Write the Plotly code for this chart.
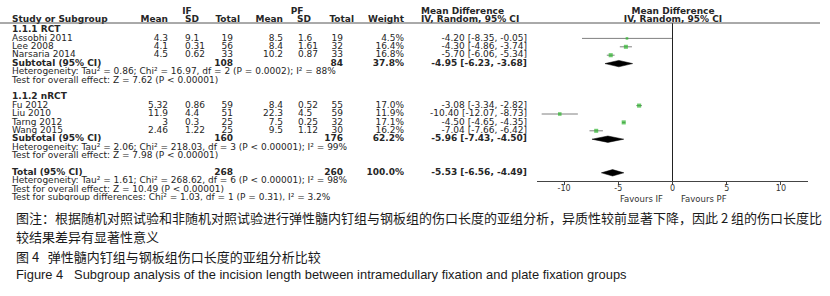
import plotly.graph_objects as go

W, H = 830, 296

# ---------------- data ----------------
sub_names = ["1.1.1 RCT", "1.1.2 nRCT"]
sub_sizes = [3, 4]

studies = ["Assobhi 2011", "Lee 2008", "Narsaria 2014",
           "Fu 2012", "Liu 2010", "Tarng 2012", "Wang 2015"]
if_mean = [4.3, 4.1, 4.5, 5.32, 11.9, 3, 2.46]
if_sd = [9.1, 0.31, 0.62, 0.86, 4.4, 0.3, 1.22]
if_n = [19, 56, 33, 59, 51, 25, 25]
pf_mean = [8.5, 8.4, 10.2, 8.4, 22.3, 7.5, 9.5]
pf_sd = [1.6, 1.61, 0.87, 0.52, 4.5, 0.25, 1.12]
pf_n = [19, 32, 33, 55, 59, 32, 30]
weight = [4.5, 16.4, 16.8, 17.0, 11.9, 17.1, 16.2]
md = [-4.20, -4.30, -5.70, -3.08, -10.40, -4.50, -7.04]
md_lo = [-8.35, -4.86, -6.06, -3.34, -12.07, -4.65, -7.66]
md_hi = [-0.05, -3.74, -5.34, -2.82, -8.73, -4.35, -6.42]

sub_if_n = [108, 160]
sub_pf_n = [84, 176]
sub_weight = [37.8, 62.2]
sub_md = [-4.95, -5.96]
sub_lo = [-6.23, -7.43]
sub_hi = [-3.68, -4.50]
sub_het = ["Heterogeneity: Tau² = 0.86; Chi² = 16.97, df = 2 (P = 0.0002); I² = 88%",
           "Heterogeneity: Tau² = 2.06; Chi² = 218.03, df = 3 (P < 0.00001); I² = 99%"]
sub_test = ["Test for overall effect: Z = 7.62 (P < 0.00001)",
            "Test for overall effect: Z = 7.98 (P < 0.00001)"]

tot_if_n = 268
tot_pf_n = 260
tot_weight = 100.0
tot_md = -5.53
tot_lo = -6.56
tot_hi = -4.49
tot_het = "Heterogeneity: Tau² = 1.61; Chi² = 268.62, df = 6 (P < 0.00001); I² = 98%"
tot_test = "Test for overall effect: Z = 10.49 (P < 0.00001)"
sub_diff = "Test for subgroup differences: Chi² = 1.03, df = 1 (P = 0.31), I² = 3.2%"

axis_ticks = [-10, -5, 0, 5, 10]
fav_left = "Favours IF"
fav_right = "Favours PF"

caption_lines = [
    "图注：根据随机对照试验和非随机对照试验进行弹性髓内钉组与钢板组的伤口长度的亚组分析，异质性较前显著下降，因此 2 组的伤口长度比",
    "较结果差异有显著性意义",
    "图 4\u00a0\u00a0\u00a0弹性髓内钉组与钢板组伤口长度的亚组分析比较",
    "Figure 4\u00a0\u00a0\u00a0Subgroup analysis of the incision length between intramedullary fixation and plate fixation groups",
]

# ---------------- styling / layout constants ----------------
FONT = "DejaVu Sans"
FS = 9
TXT = "#262626"
GREEN = "#2fb52f"
ROW0, ROW_STEP = 30.0, 8.4
TABLE_BOTTOM = 200.5
HEAD_LINE = 23.0
AXIS_Y = 181.0
FX0, FX1 = 537.0, 808.0
XR = [-12.5, 12.5]

# column anchors (pixel x, alignment)
C_STUDY = (12, "L")
C_IFM = (168, "R")
C_IFSD = (185, "L")
C_IFN = (233, "R")
C_PFM = (283, "R")
C_PFSD = (298, "L")
C_PFN = (343, "R")
C_W = (404, "R")
C_CI = (527, "R")


def py(px):
    return 1 - px / H


def row_y(i):
    return ROW0 + ROW_STEP * i


def fmt_ci(m, l, h):
    return f"{m:.2f} [{l:.2f}, {h:.2f}]"


cells = []  # (x, y, text, align, bold)


def cell(col, y, text, bold=False):
    cells.append((col[0], y, text, col[1], bold))


# headers
h1 = 11.5
cells.append((187, h1, "IF", "C", True))
cells.append((297, h1, "PF", "C", True))
cells.append((421, h1, "Mean Difference", "L", True))
cells.append((673, h1, "Mean Difference", "C", True))
hy = 20
cells.append((12, hy, "Study or Subgroup", "L", True))
cells.append((168, hy, "Mean", "R", True))
cells.append((185, hy, "SD", "L", True))
cells.append((240, hy, "Total", "R", True))
cells.append((283, hy, "Mean", "R", True))
cells.append((297, hy, "SD", "L", True))
cells.append((354, hy, "Total", "R", True))
cells.append((404, hy, "Weight", "R", True))
cells.append((421, hy, "IV, Random, 95% CI", "L", True))
cells.append((673, hy, "IV, Random, 95% CI", "C", True))

# body rows
study_rows = []
sub_rows = []
r = 0
s = 0
for g, name in enumerate(sub_names):
    cell(C_STUDY, row_y(r), name, True)
    r += 1
    for _ in range(sub_sizes[g]):
        y = row_y(r)
        study_rows.append(y)
        cell(C_STUDY, y, studies[s])
        cell(C_IFM, y, f"{if_mean[s]:g}")
        cell(C_IFSD, y, f"{if_sd[s]:g}")
        cell(C_IFN, y, f"{if_n[s]}")
        cell(C_PFM, y, f"{pf_mean[s]:g}")
        cell(C_PFSD, y, f"{pf_sd[s]:g}")
        cell(C_PFN, y, f"{pf_n[s]}")
        cell(C_W, y, f"{weight[s]:.1f}%")
        cell(C_CI, y, fmt_ci(md[s], md_lo[s], md_hi[s]))
        s += 1
        r += 1
    y = row_y(r)
    sub_rows.append(y)
    cell(C_STUDY, y, "Subtotal (95% CI)", True)
    cell(C_IFN, y, f"{sub_if_n[g]}", True)
    cell(C_PFN, y, f"{sub_pf_n[g]}", True)
    cell(C_W, y, f"{sub_weight[g]:.1f}%", True)
    cell(C_CI, y, fmt_ci(sub_md[g], sub_lo[g], sub_hi[g]), True)
    r += 1
    cell(C_STUDY, row_y(r), sub_het[g])
    r += 1
    cell(C_STUDY, row_y(r), sub_test[g])
    r += 2

y = row_y(r)
tot_row = y
cell(C_STUDY, y, "Total (95% CI)", True)
cell(C_IFN, y, f"{tot_if_n}", True)
cell(C_PFN, y, f"{tot_pf_n}", True)
cell(C_W, y, f"{tot_weight:.1f}%", True)
cell(C_CI, y, fmt_ci(tot_md, tot_lo, tot_hi), True)
r += 1
cell(C_STUDY, row_y(r), tot_het)
r += 1
cell(C_STUDY, row_y(r), tot_test)
r += 1
cell(C_STUDY, row_y(r), sub_diff)

fig = go.Figure()

POS = {"L": "middle right", "R": "middle left", "C": "middle center"}
for align in ("L", "R", "C"):
    for bold in (False, True):
        sel = [c for c in cells if c[3] == align and c[4] == bold]
        if not sel:
            continue
        fig.add_trace(go.Scatter(
            x=[c[0] for c in sel], y=[c[1] for c in sel], text=[c[2] for c in sel],
            mode="text", textposition=POS[align],
            textfont=dict(family=FONT, size=FS, color=TXT,
                          weight="bold" if bold else "normal"),
            xaxis="x", yaxis="y", hoverinfo="skip", showlegend=False,
            cliponaxis=True))

# forest: CI lines + squares
fig.add_trace(go.Scatter(
    x=md, y=study_rows, mode="markers",
    marker=dict(symbol="square", color=GREEN,
                size=[1.0 + 0.75 * w ** 0.5 for w in weight], line=dict(width=0)),
    error_x=dict(type="data", symmetric=False,
                 array=[h - m for h, m in zip(md_hi, md)],
                 arrayminus=[m - l for m, l in zip(md, md_lo)],
                 color="#808080", thickness=1, width=0),
    xaxis="x2", yaxis="y2", hoverinfo="skip", showlegend=False, cliponaxis=False))

# diamonds
DH = 3.2
for (m, l, h, yy) in list(zip(sub_md, sub_lo, sub_hi, sub_rows)) + [(tot_md, tot_lo, tot_hi, tot_row)]:
    fig.add_trace(go.Scatter(
        x=[l, m, h, m, l], y=[yy, yy - DH, yy, yy + DH, yy],
        mode="lines", fill="toself", fillcolor="#000000",
        line=dict(color="#000000", width=0.5),
        xaxis="x2", yaxis="y2", hoverinfo="skip", showlegend=False))

annotations = [
    dict(text=fav_left, x=665 / W, y=py(198.5), xref="paper", yref="paper",
         xanchor="right", yanchor="middle", showarrow=False,
         font=dict(family=FONT, size=8.5, color="#333")),
    dict(text=fav_right, x=679 / W, y=py(198.5), xref="paper", yref="paper",
         xanchor="left", yanchor="middle", showarrow=False,
         font=dict(family=FONT, size=8.5, color="#333")),
]
cap_y = [217, 236.5, 256, 274]
for i, (t, yy) in enumerate(zip(caption_lines, cap_y)):
    if i < 3:
        f = dict(family="Noto Sans CJK SC", size=13, color="#1a1a1a")
    else:
        f = dict(family="Liberation Sans", size=12.9, color="#1a1a1a")
    annotations.append(dict(text=t, x=14 / W, y=py(yy), xref="paper", yref="paper",
                            xanchor="left", yanchor="middle", showarrow=False,
                            font=f))

fig.update_layout(
    width=W, height=H, autosize=False,
    margin=dict(l=0, r=0, t=0, b=0, pad=0),
    paper_bgcolor="white", plot_bgcolor="white",
    xaxis=dict(domain=[0, 1], range=[0, W], visible=False, fixedrange=True),
    yaxis=dict(domain=[py(TABLE_BOTTOM), 1], range=[TABLE_BOTTOM, 0],
               visible=False, fixedrange=True),
    xaxis2=dict(domain=[FX0 / W, FX1 / W], range=XR, anchor="y2",
                showline=True, linecolor="#444", linewidth=1,
                ticks="outside", ticklen=3, tickcolor="#444",
                ticklabelstandoff=-4,
                tickvals=axis_ticks, ticktext=[f"{v}" for v in axis_ticks],
                tickfont=dict(family=FONT, size=8, color="#333"),
                showgrid=False, zeroline=True, zerolinecolor="#222",
                zerolinewidth=1, fixedrange=True),
    yaxis2=dict(domain=[py(AXIS_Y), py(HEAD_LINE)], range=[AXIS_Y, HEAD_LINE],
                visible=False, showgrid=False, zeroline=False, fixedrange=True),
    shapes=[dict(type="line", xref="paper", yref="paper", x0=0, x1=820 / W,
                 y0=py(HEAD_LINE), y1=py(HEAD_LINE),
                 line=dict(color="#555", width=1))],
    annotations=annotations,
)

fig.write_html("out.html", config={"displayModeBar": False},
               post_script="document.body.style.margin='0px';")
